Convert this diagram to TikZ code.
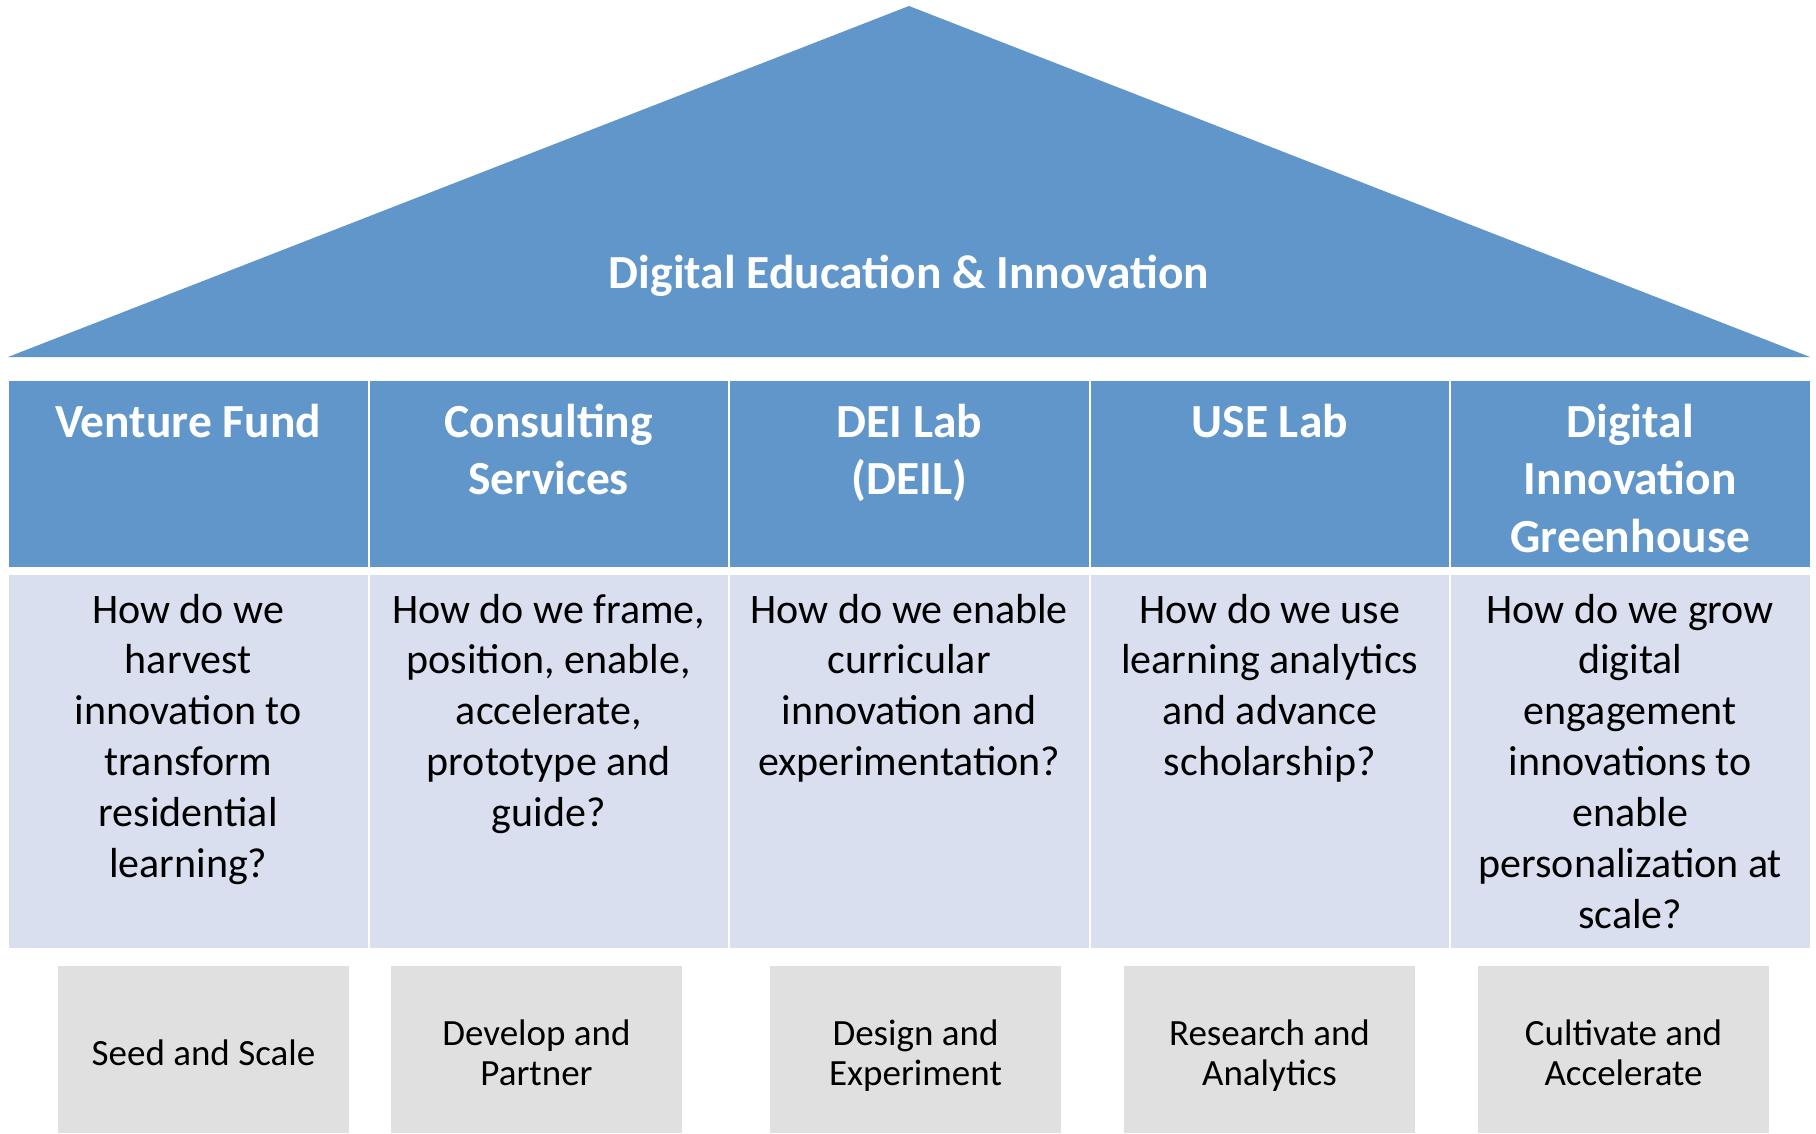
\documentclass[tikz,border=0pt]{standalone}
\usepackage{fontspec}
\setmainfont{Carlito}
\definecolor{roofblue}{HTML}{6096C9}
\definecolor{bodyblue}{HTML}{D9DFEE}
\definecolor{boxgrey}{HTML}{E0E0E0}
\newcommand\mycell[2]{\parbox[t]{#1}{\centering #2}}
\begin{document}
\begin{tikzpicture}[x=1pt,y=-1pt,
  headcell/.style={fill=roofblue, draw=none, inner sep=0pt, outer sep=0pt, anchor=north west, minimum width=358.5pt, minimum height=186pt},
  bodycell/.style={fill=bodyblue, draw=none, inner sep=0pt, outer sep=0pt, anchor=north west, minimum width=358.5pt, minimum height=373pt},
  greybox/.style={fill=boxgrey, draw=none, inner sep=0pt, outer sep=0pt, anchor=north west, minimum width=291pt, minimum height=167pt},
  headtxt/.style={anchor=base, inner sep=0pt, text=white, font=\bfseries\fontsize{47.5}{57.5}\selectfont},
  bodytxt/.style={anchor=base, inner sep=0pt, text=black, font=\fontsize{42}{50.9}\selectfont},
  boxtxt/.style={anchor=base, inner sep=0pt, text=black, font=\fontsize{37}{40}\selectfont},
  titletxt/.style={anchor=base, inner sep=0pt, text=white, font=\bfseries\fontsize{47.5}{57.5}\selectfont}]
\useasboundingbox (0,0) rectangle (1816,1133);
\fill[white] (0,0) rectangle (1816,1133);
% roof
\fill[roofblue] (909,6) -- (1810,357) -- (8,357) -- cycle;
\node[titletxt] (title) at (909,288) {Digital Education \& Innovation};
% header cells
\node[headcell] (h1) at (9,381) {};
\node[headcell] (h2) at (369.5,381) {};
\node[headcell] (h3) at (730,381) {};
\node[headcell] (h4) at (1090.5,381) {};
\node[headcell] (h5) at (1451,381) {};
% body cells
\node[bodycell] (b1) at (9,575) {};
\node[bodycell] (b2) at (369.5,575) {};
\node[bodycell] (b3) at (730,575) {};
\node[bodycell] (b4) at (1090.5,575) {};
\node[bodycell] (b5) at (1451,575) {};
% header texts
\node[headtxt] (ht1) at (188.25,437) {\mycell{350pt}{Venture Fund}};
\node[headtxt] (ht2) at (548.75,437) {\mycell{350pt}{Consulting\\Services}};
\node[headtxt] (ht3) at (909.25,437) {\mycell{350pt}{DEI Lab\\(DEIL)}};
\node[headtxt] (ht4) at (1269.75,437) {\mycell{350pt}{USE Lab}};
\node[headtxt] (ht5) at (1630.25,437) {\mycell{350pt}{Digital\\Innovation\\Greenhouse}};
% body texts
\node[bodytxt] (bt1) at (188.25,623) {\mycell{350pt}{How do we\\harvest\\innovation to\\transform\\residential\\learning?}};
\node[bodytxt] (bt2) at (548.75,623) {\mycell{350pt}{How do we frame,\\position, enable,\\accelerate,\\prototype and\\guide?}};
\node[bodytxt] (bt3) at (909.25,623) {\mycell{350pt}{How do we enable\\curricular\\innovation and\\experimentation?}};
\node[bodytxt] (bt4) at (1269.75,623) {\mycell{350pt}{How do we use\\learning analytics\\and advance\\scholarship?}};
\node[bodytxt] (bt5) at (1630.25,623) {\mycell{350pt}{How do we grow\\digital\\engagement\\innovations to\\enable\\personalization at\\scale?}};
% grey boxes
\node[greybox] (g1) at (58,966) {};
\node[greybox] (g2) at (391,966) {};
\node[greybox] (g3) at (770,966) {};
\node[greybox] (g4) at (1124,966) {};
\node[greybox] (g5) at (1478,966) {};
\node[boxtxt] (gt1) at (203.5,1065) {\mycell{285pt}{Seed and Scale}};
\node[boxtxt] (gt2) at (536.5,1045) {\mycell{285pt}{Develop and\\Partner}};
\node[boxtxt] (gt3) at (915.5,1045) {\mycell{285pt}{Design and\\Experiment}};
\node[boxtxt] (gt4) at (1269.5,1045) {\mycell{285pt}{Research and\\Analytics}};
\node[boxtxt] (gt5) at (1623.5,1045) {\mycell{285pt}{Cultivate and\\Accelerate}};
\end{tikzpicture}
\end{document}
